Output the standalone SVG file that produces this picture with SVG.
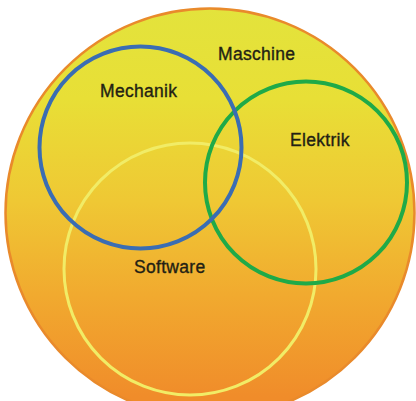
<svg xmlns="http://www.w3.org/2000/svg" width="416" height="401" viewBox="0 0 416 401">
  <defs>
    <linearGradient id="fillGrad" x1="0" y1="0" x2="0" y2="1">
      <stop offset="0" stop-color="#e3e33c"/>
      <stop offset="0.22" stop-color="#e8df36"/>
      <stop offset="0.47" stop-color="#efc834"/>
      <stop offset="0.70" stop-color="#f1aa2f"/>
      <stop offset="0.95" stop-color="#f08c2a"/>
    </linearGradient>
  </defs>
  <style>
    .label { font-family: "Liberation Sans", Arial, sans-serif; font-size: 17.5px; fill: #231f14; stroke: #231f14; stroke-width: 0.35px; letter-spacing: 0.3px; }
    .ring { fill: none; }
  </style>
  <rect width="416" height="401" fill="#ffffff"/>

  <!-- outer set: Maschine -->
  <g id="maschine">
    <circle cx="210" cy="213" r="204.5" fill="url(#fillGrad)" stroke="#e98a2b" stroke-width="2.5"/>
    <text class="label" x="218" y="60">Maschine</text>
  </g>

  <!-- Software set -->
  <g id="software">
    <circle class="ring" cx="190" cy="269" r="126" stroke="#f1ec66" stroke-width="3"/>
    <text class="label" x="134" y="273">Software</text>
  </g>

  <!-- Elektrik set -->
  <g id="elektrik">
    <circle class="ring" cx="306" cy="182.5" r="101" stroke="#1faa48" stroke-width="4"/>
    <text class="label" x="290" y="146">Elektrik</text>
  </g>

  <!-- Mechanik set -->
  <g id="mechanik">
    <circle class="ring" cx="140.5" cy="147.5" r="101" stroke="#3a6db3" stroke-width="4"/>
    <text class="label" x="100" y="97">Mechanik</text>
  </g>
</svg>
